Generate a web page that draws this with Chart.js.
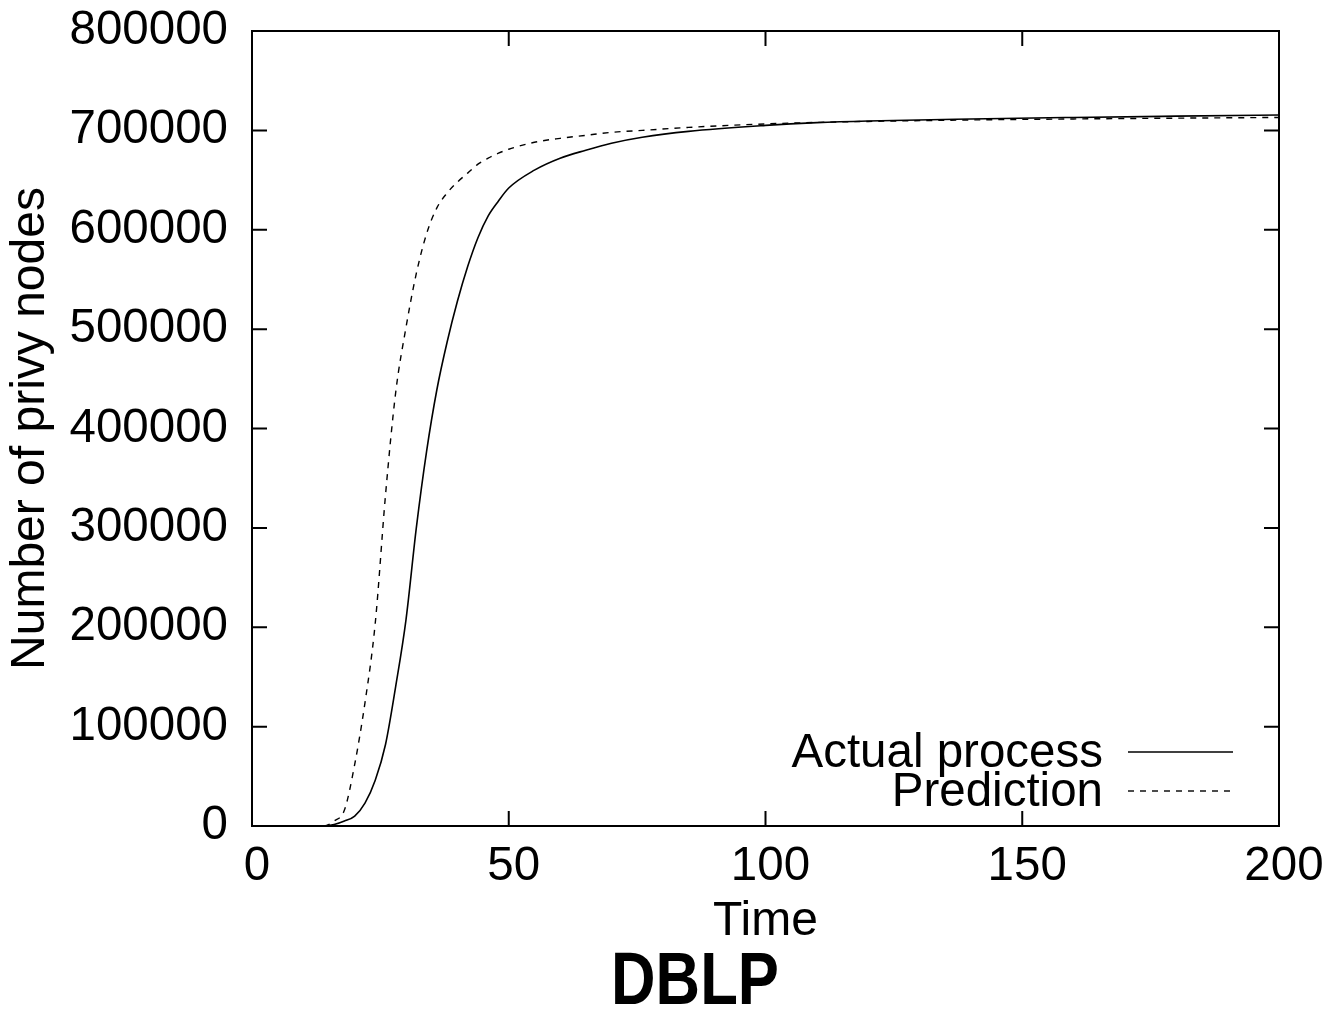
<!DOCTYPE html>
<html>
<head>
<meta charset="utf-8">
<title>DBLP</title>
<script src="https://cdn.jsdelivr.net/npm/chart.js@4.4.0/dist/chart.umd.min.js"></script>
<style>
  html, body { margin: 0; padding: 0; background: #fff; }
  #wrap { width: 1329px; height: 1016px; }
</style>
</head>
<body>
<div id="wrap"><canvas id="chart"></canvas></div>
<script>
// values
const times = [0, 14, 16, 18, 20, 22, 24, 26, 28, 30, 32, 34, 36, 38, 40, 42, 44, 46, 48, 50,
               55, 60, 65, 70, 76, 85, 100, 110, 120, 140, 160, 180, 200];
const actualProcess = [0, 0, 1500, 5000, 10000, 23000, 46000, 82000, 141000, 208000, 300000,
                       377000, 439000, 487000, 528000, 563000, 592000, 614000, 629000, 642000,
                       660000, 672000, 680000, 687000, 693000, 699000, 705000, 707800,
                       709500, 711500, 713000, 714300, 715500];
const prediction = [0, 0, 5000, 16000, 62000, 124000, 204000, 333000, 437000, 502000, 556000,
                    596000, 622000, 637000, 648000, 657000, 666000, 672000, 677000, 681000,
                    688000, 692000, 695000, 698000, 700000, 703000, 706500, 708000,
                    709000, 710500, 711500, 712300, 713000];
const seriesNames = ['Actual process', 'Prediction'];
const xTicks = [0, 50, 100, 150, 200];
const yTicks = [0, 100000, 200000, 300000, 400000, 500000, 600000, 700000, 800000];
const caption = 'DBLP';

const FONT = "'Liberation Sans', Arial, Helvetica, sans-serif";

const toPoints = vals => vals.map((v, i) => ({x: times[i], y: v}));

// gnuplot style box with ticks pointing inward on all four sides
const framePlugin = {
    id: 'frame',
    afterDatasetsDraw(chart) {
        const {ctx, chartArea: a, scales: {x, y}} = chart;
        const len = 15;
        ctx.save();
        ctx.strokeStyle = '#000';
        ctx.lineWidth = 2;
        ctx.beginPath();
        x.ticks.forEach(t => {
            const px = x.getPixelForValue(t.value);
            ctx.moveTo(px, a.bottom); ctx.lineTo(px, a.bottom - len);
            ctx.moveTo(px, a.top); ctx.lineTo(px, a.top + len);
        });
        y.ticks.forEach(t => {
            const py = y.getPixelForValue(t.value);
            ctx.moveTo(a.left, py); ctx.lineTo(a.left + len, py);
            ctx.moveTo(a.right, py); ctx.lineTo(a.right - len, py);
        });
        ctx.stroke();
        ctx.strokeRect(a.left, a.top, a.right - a.left, a.bottom - a.top);
        ctx.restore();
    }
};

// key in the lower right corner: text first, then the line sample
const keyPlugin = {
    id: 'key',
    afterDraw(chart) {
        const {ctx, chartArea: a} = chart;
        ctx.save();
        ctx.font = '47.5px ' + FONT;
        ctx.textAlign = 'right';
        ctx.textBaseline = 'middle';
        chart.data.datasets.forEach((ds, i) => {
            const yy = a.bottom - 74 + i * 39;
            ctx.fillStyle = '#000';
            ctx.fillText(ds.label, a.right - 176, yy + 2);
            ctx.strokeStyle = ds.borderColor;
            ctx.lineWidth = ds.borderWidth;
            ctx.setLineDash(ds.borderDash || []);
            ctx.beginPath();
            ctx.moveTo(a.right - 151, yy);
            ctx.lineTo(a.right - 46, yy);
            ctx.stroke();
        });
        ctx.restore();
    }
};

// narrow bold caption under the plot
const captionPlugin = {
    id: 'caption',
    afterDraw(chart) {
        const {ctx} = chart;
        ctx.save();
        ctx.translate(695, 984);
        ctx.scale(0.833, 1);
        ctx.font = 'bold 74px ' + FONT;
        ctx.fillStyle = '#000';
        ctx.textAlign = 'center';
        ctx.textBaseline = 'middle';
        ctx.fillText(caption, 0, 0);
        ctx.restore();
    }
};

new Chart(document.getElementById('chart'), {
    type: 'line',
    data: {
        datasets: [
            {
                label: seriesNames[0],
                data: toPoints(actualProcess),
                borderColor: '#000',
                borderWidth: 1.6,
                pointRadius: 0,
                cubicInterpolationMode: 'monotone',
                fill: false
            },
            {
                label: seriesNames[1],
                data: toPoints(prediction),
                borderColor: '#000',
                borderWidth: 1.4,
                borderDash: [6, 6],
                pointRadius: 0,
                cubicInterpolationMode: 'monotone',
                fill: false
            }
        ]
    },
    options: {
        responsive: true,
        maintainAspectRatio: false,
        animation: false,
        layout: {padding: {top: 31, right: 50, left: 0, bottom: 64}},
        plugins: {
            legend: {display: false},
            tooltip: {enabled: false}
        },
        scales: {
            x: {
                type: 'linear',
                min: xTicks[0],
                max: xTicks[xTicks.length - 1],
                afterBuildTicks: s => { s.ticks = xTicks.map(v => ({value: v})); },
                afterFit: s => { s.height = 126; s.paddingLeft = 0; s.paddingRight = 0; },
                grid: {display: false, drawTicks: false},
                border: {display: false},
                ticks: {
                    color: '#000',
                    font: {family: FONT, size: 47.5},
                    padding: 12,
                    labelOffset: 5,
                    maxRotation: 0
                },
                title: {
                    display: true,
                    text: 'Time',
                    color: '#000',
                    font: {family: FONT, size: 48},
                    padding: {top: 0, bottom: 1}
                }
            },
            y: {
                type: 'linear',
                min: yTicks[0],
                max: yTicks[yTicks.length - 1],
                afterBuildTicks: s => { s.ticks = yTicks.map(v => ({value: v})); },
                afterFit: s => { s.width = 252; s.paddingTop = 0; s.paddingBottom = 0; },
                grid: {display: false, drawTicks: false},
                border: {display: false},
                ticks: {
                    color: '#000',
                    font: {family: FONT, size: 47.5},
                    padding: 24,
                    callback: v => String(v)
                },
                title: {
                    display: true,
                    text: 'Number of privy nodes',
                    color: '#000',
                    font: {family: FONT, size: 48},
                    padding: {top: 2, bottom: 0}
                }
            }
        }
    },
    plugins: [framePlugin, keyPlugin, captionPlugin]
});
</script>
</body>
</html>
